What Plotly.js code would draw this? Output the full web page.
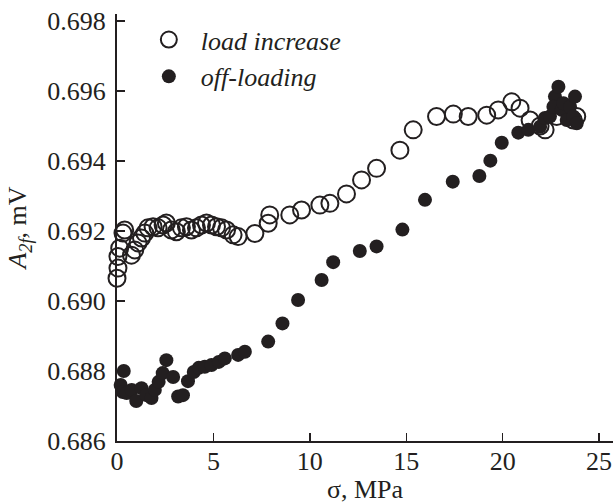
<!DOCTYPE html>
<html>
<head>
<meta charset="utf-8">
<script src="https://cdn.plot.ly/plotly-3.0.1.min.js"></script>
<style>html,body{margin:0;padding:0;background:#fff;}#chart{width:614px;height:504px;}</style>
</head>
<body>
<div id="chart"></div>
<script>
// load increase (open circles)
const loadX = [0.0, 0.05, 0.05, 0.14, 0.31, 0.4, 0.75, 0.92, 1.09, 1.27, 1.44, 1.61, 1.87, 2.13, 2.39, 2.56, 2.82, 3.08, 3.34, 3.60, 3.86, 4.12, 4.38, 4.64, 4.90, 5.16, 5.42, 5.68, 6.02, 6.28, 7.15, 7.84, 7.92, 8.96, 9.57, 10.52, 11.04, 11.9, 12.68, 13.46, 14.67, 15.36, 16.57, 17.44, 18.21, 19.17, 19.77, 20.47, 20.9, 21.42, 21.94, 22.2, 22.8, 23.66, 23.84];
const loadY = [0.69065, 0.69094, 0.69127, 0.69151, 0.69194, 0.69203, 0.69131, 0.69146, 0.69166, 0.69180, 0.69194, 0.69209, 0.69212, 0.69209, 0.69217, 0.69223, 0.69203, 0.69198, 0.69209, 0.69212, 0.69203, 0.69209, 0.69217, 0.69223, 0.69217, 0.69212, 0.69209, 0.69203, 0.69189, 0.69184, 0.69193, 0.69222, 0.69246, 0.69246, 0.69260, 0.69274, 0.69279, 0.69306, 0.69346, 0.69379, 0.69431, 0.69489, 0.69527, 0.69534, 0.69527, 0.69531, 0.69546, 0.69569, 0.69551, 0.69517, 0.69500, 0.69489, 0.69527, 0.69517, 0.69527];
// off-loading (filled dots)
const offX = [0.35, 0.19, 0.30, 0.50, 0.76, 1.0, 1.27, 1.53, 1.79, 1.96, 2.16, 2.37, 2.56, 2.91, 3.17, 3.42, 3.68, 3.98, 4.24, 4.55, 4.90, 5.28, 5.59, 6.28, 6.63, 7.84, 8.58, 9.39, 10.61, 11.21, 12.59, 13.46, 14.80, 15.97, 17.41, 18.79, 19.36, 19.95, 20.81, 21.33, 21.94, 22.19, 22.45, 22.71, 22.89, 22.63, 23.06, 23.15, 23.32, 23.49, 23.75, 23.66, 23.84];
const offY = [0.68800, 0.68760, 0.68740, 0.68737, 0.68746, 0.68714, 0.68751, 0.68731, 0.68723, 0.68746, 0.68769, 0.68794, 0.68831, 0.68783, 0.68727, 0.68731, 0.68771, 0.68797, 0.68809, 0.68812, 0.68817, 0.68826, 0.68836, 0.68846, 0.68855, 0.68884, 0.68936, 0.69003, 0.69060, 0.69111, 0.69143, 0.69156, 0.69204, 0.69289, 0.69341, 0.69357, 0.69401, 0.69452, 0.69481, 0.69489, 0.69498, 0.69523, 0.69527, 0.69584, 0.69612, 0.69555, 0.69546, 0.69565, 0.69517, 0.69555, 0.69584, 0.69527, 0.69508];
const xTicks = [0, 5, 10, 15, 20, 25];
const yTicks = [0.686, 0.688, 0.690, 0.692, 0.694, 0.696, 0.698];
const yTickText = ['0.686', '0.688', '0.690', '0.692', '0.694', '0.696', '0.698'];

const ink = '#231f20';
const fam = 'Liberation Serif, Times New Roman, serif';
const font = {family: fam, size: 26, color: ink};

const traces = [
  {x: loadX, y: loadY, type: 'scatter', mode: 'markers', name: 'load increase', cliponaxis: false,
   marker: {symbol: 'circle-open', size: 17, color: ink, line: {width: 2, color: ink}}},
  {x: offX, y: offY, type: 'scatter', mode: 'markers', name: 'off-loading', cliponaxis: false,
   marker: {symbol: 'circle', size: 14, color: ink, line: {width: 0}}}
];

const layout = {
  width: 614, height: 504,
  margin: {l: 117, r: 1, t: 14, b: 63},
  paper_bgcolor: '#fff', plot_bgcolor: '#fff',
  font: font,
  showlegend: true,
  legend: {x: 0.04, y: 0.995, xanchor: 'left', yanchor: 'top', bgcolor: 'rgba(0,0,0,0)',
           font: {family: fam, size: 26, color: ink, style: 'italic'}, itemwidth: 54, tracegroupgap: 0},
  xaxis: {range: [0, 25.72], tickvals: xTicks, ticktext: xTicks.map(String), ticks: 'inside', ticklen: 8, tickwidth: 1.5, tickcolor: ink,
          showline: true, linewidth: 2, linecolor: ink, showgrid: false, zeroline: false, mirror: false,
          tickfont: font, ticklabelstandoff: -4, title: {text: 'σ, MPa', font: font, standoff: 2}},
  yaxis: {range: [0.686, 0.6982], tickvals: yTicks, ticktext: yTickText, ticks: 'inside', ticklen: 8, tickwidth: 1.5, tickcolor: ink,
          showline: true, linewidth: 2, linecolor: ink, showgrid: false, zeroline: false, mirror: false,
          tickfont: font, ticklabelstandoff: 4,
          title: {text: '<i>A</i><sub><i>2f</i></sub>, mV', font: font, standoff: 13}}
};

Plotly.newPlot('chart', traces, layout, {displayModeBar: false, staticPlot: true});
</script>
</body>
</html>
